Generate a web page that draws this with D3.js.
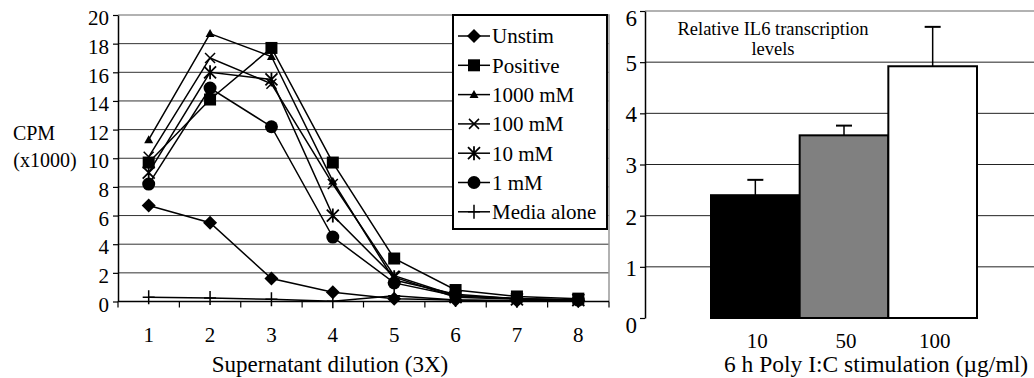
<!DOCTYPE html>
<html>
<head>
<meta charset="utf-8">
<script src="https://cdn.jsdelivr.net/npm/d3@7"></script>
<style>
  body { margin: 0; background: #fff; }
  svg text { font-family: "Liberation Serif", "Times New Roman", serif; fill: #000; }
</style>
</head>
<body>
<svg id="chart" width="1034" height="378"></svg>
<script>
// left panel: CPM vs dilution
const dilutions = [1, 2, 3, 4, 5, 6, 7, 8]
const seriesNames = ["Unstim", "Positive", "1000 mM", "100 mM", "10 mM", "1 mM", "Media alone"]
const unstim   = [6.7, 5.5, 1.6, 0.65, 0.2, 0.1, 0.05, 0.05]
const positive = [9.7, 14.1, 17.7, 9.7, 3.0, 0.8, 0.35, 0.2]
const mM1000   = [11.3, 18.7, 17.1, 8.4, 1.5, 0.5, 0.2, 0.1]
const mM100    = [10.1, 17.0, 15.2, 8.2, 1.8, 0.4, 0.2, 0.1]
const mM10     = [9.0, 16.0, 15.5, 6.0, 1.7, 0.3, 0.15, 0.1]
const mM1      = [8.2, 14.9, 12.2, 4.5, 1.3, 0.4, 0.2, 0.1]
const media    = [0.3, 0.25, 0.15, 0.02, 0.4, 0.1, 0.05, 0.05]
const leftTicks = [0, 2, 4, 6, 8, 10, 12, 14, 16, 18, 20]

// right panel: IL6 bars
const doses = ["10", "50", "100"]
const il6 = [2.4, 3.57, 4.92]
const il6Err = [0.3, 0.19, 0.77]
const rightTicks = [0, 1, 2, 3, 4, 5, 6]

const svg = d3.select("#chart")

// ---------- left chart ----------
const L = {left: 118, right: 609, top: 15, bottom: 301.5}
const x = d3.scaleBand().domain(dilutions).range([L.left, L.right])
const y = d3.scaleLinear().domain([0, 20]).range([L.bottom, L.top])
const cx = d => x(d) + x.bandwidth() / 2

const left = svg.append("g")

left.selectAll(".grid")
  .data(leftTicks.slice(1, -1))
  .join("line")
  .attr("x1", L.left).attr("x2", L.right)
  .attr("y1", d => y(d)).attr("y2", d => y(d))
  .attr("stroke", "#333").attr("stroke-width", 1)

// grey top / right frame
left.append("path")
  .attr("d", `M${L.left},${L.top}H${L.right}V${L.bottom}`)
  .attr("fill", "none").attr("stroke", "#999").attr("stroke-width", 1.5)

left.append("g")
  .attr("transform", `translate(${L.left},0)`)
  .call(d3.axisLeft(y).tickValues(leftTicks).tickSize(5).tickPadding(4).tickSizeOuter(0))
  .call(g => g.select(".domain").attr("stroke", "#000").attr("stroke-width", 1.5))
  .call(g => g.selectAll(".tick line").attr("stroke", "#000").attr("stroke-width", 1.2))
  .call(g => g.selectAll(".tick text").attr("font-size", 21).attr("transform", "translate(0,3)"))

// x axis: ticks between categories
const edges = dilutions.map(d => x(d)).concat([L.right])
left.append("line")
  .attr("x1", L.left).attr("x2", L.right).attr("y1", L.bottom).attr("y2", L.bottom)
  .attr("stroke", "#000").attr("stroke-width", 1.5)
left.selectAll(".xtick")
  .data(edges)
  .join("line")
  .attr("x1", d => d).attr("x2", d => d)
  .attr("y1", L.bottom).attr("y2", L.bottom + 6)
  .attr("stroke", "#000").attr("stroke-width", 1.2)
left.selectAll(".xlab")
  .data(dilutions)
  .join("text")
  .attr("x", d => cx(d)).attr("y", 342)
  .attr("text-anchor", "middle").attr("font-size", 21)
  .text(d => d)

left.append("text")
  .attr("x", 330).attr("y", 372).attr("text-anchor", "middle").attr("font-size", 23)
  .text("Supernatant dilution (3X)")
left.append("text")
  .attr("x", 34).attr("y", 140).attr("text-anchor", "middle").attr("font-size", 20)
  .text("CPM")
left.append("text")
  .attr("x", 45).attr("y", 167).attr("text-anchor", "middle").attr("font-size", 20)
  .text("(x1000)")

// marker shapes
function marker(g, kind) {
  if (kind === "diamond") {
    g.append("path").attr("d", "M0,-7L7,0L0,7L-7,0Z").attr("fill", "#000")
  } else if (kind === "square") {
    g.append("rect").attr("x", -6).attr("y", -6).attr("width", 12).attr("height", 12).attr("fill", "#000")
  } else if (kind === "triangle") {
    g.append("path").attr("d", "M0,-4.5L4.5,3.5L-4.5,3.5Z").attr("fill", "#000")
  } else if (kind === "x") {
    g.append("path").attr("d", "M-5,-5L5,5M-5,5L5,-5").attr("stroke", "#000").attr("stroke-width", 1.5)
  } else if (kind === "asterisk") {
    g.append("path").attr("d", "M-6,-6L6,6M-6,6L6,-6M0,-7V7").attr("stroke", "#000").attr("stroke-width", 1.8)
  } else if (kind === "circle") {
    g.append("circle").attr("r", 6.5).attr("fill", "#000")
  } else if (kind === "plus") {
    g.append("path").attr("d", "M-6,0H6M0,-7V7").attr("stroke", "#000").attr("stroke-width", 1.5)
  }
}

const series = [
  {name: seriesNames[0], values: unstim, kind: "diamond"},
  {name: seriesNames[1], values: positive, kind: "square"},
  {name: seriesNames[2], values: mM1000, kind: "triangle"},
  {name: seriesNames[3], values: mM100, kind: "x"},
  {name: seriesNames[4], values: mM10, kind: "asterisk"},
  {name: seriesNames[5], values: mM1, kind: "circle"},
  {name: seriesNames[6], values: media, kind: "plus"}
]

const line = d3.line()
  .x((d, i) => cx(dilutions[i]))
  .y(d => y(d))

series.forEach(s => {
  left.append("path")
    .attr("d", line(s.values))
    .attr("fill", "none").attr("stroke", "#000").attr("stroke-width", 1.5)
  s.values.forEach((v, i) => {
    const g = left.append("g").attr("transform", `translate(${cx(dilutions[i])},${y(v)})`)
    marker(g, s.kind)
  })
})

// legend
const legend = left.append("g")
legend.append("rect")
  .attr("x", 453).attr("y", 15).attr("width", 154).attr("height", 214)
  .attr("fill", "#fff").attr("stroke", "#000").attr("stroke-width", 2)
series.forEach((s, i) => {
  const ly = 36 + i * 29.3
  legend.append("line")
    .attr("x1", 458).attr("x2", 490).attr("y1", ly).attr("y2", ly)
    .attr("stroke", "#000").attr("stroke-width", 1.5)
  marker(legend.append("g").attr("transform", `translate(474,${ly})`), s.kind)
  legend.append("text")
    .attr("x", 492).attr("y", ly).attr("dy", "0.35em")
    .attr("font-size", 21)
    .text(s.name)
})

// ---------- right chart ----------
const R = {left: 645, right: 1034, top: 11, bottom: 318}
const xb = d3.scaleBand().domain(doses).range([711, 977]).paddingInner(0)
const yb = d3.scaleLinear().domain([0, 6]).range([R.bottom, R.top])
const barFill = ["#000", "#808080", "#fff"]

const right = svg.append("g")

right.selectAll(".grid")
  .data(rightTicks.slice(1, -1))
  .join("line")
  .attr("x1", R.left).attr("x2", R.right)
  .attr("y1", d => yb(d)).attr("y2", d => yb(d))
  .attr("stroke", "#222").attr("stroke-width", 1)
right.append("line")
  .attr("x1", R.left).attr("x2", R.right).attr("y1", R.top).attr("y2", R.top)
  .attr("stroke", "#999").attr("stroke-width", 1.5)

right.selectAll(".bar")
  .data(doses)
  .join("rect")
  .attr("x", d => xb(d)).attr("width", xb.bandwidth())
  .attr("y", (d, i) => yb(il6[i])).attr("height", (d, i) => yb(0) - yb(il6[i]))
  .attr("fill", (d, i) => barFill[i])
  .attr("stroke", "#000").attr("stroke-width", 2)

// error bars
doses.forEach((d, i) => {
  const c = xb(d) + xb.bandwidth() / 2
  right.append("line")
    .attr("x1", c).attr("x2", c)
    .attr("y1", yb(il6[i])).attr("y2", yb(il6[i] + il6Err[i]))
    .attr("stroke", "#000").attr("stroke-width", 1.5)
  right.append("line")
    .attr("x1", c - 8).attr("x2", c + 8)
    .attr("y1", yb(il6[i] + il6Err[i])).attr("y2", yb(il6[i] + il6Err[i]))
    .attr("stroke", "#000").attr("stroke-width", 2)
})

right.append("g")
  .attr("transform", `translate(${R.left},0)`)
  .call(d3.axisLeft(yb).tickValues(rightTicks).tickFormat(d3.format("d")).tickSize(5).tickPadding(3).tickSizeOuter(0))
  .call(g => g.select(".domain").attr("stroke", "#000").attr("stroke-width", 1.5))
  .call(g => g.selectAll(".tick line").attr("stroke", "#000").attr("stroke-width", 1.2))
  .call(g => g.selectAll(".tick text").attr("font-size", 23)
    .attr("transform", d => (d === 0 || d === 6) ? "translate(0,7)" : "translate(0,1)"))

right.selectAll(".xlab")
  .data(doses)
  .join("text")
  .attr("x", d => xb(d) + xb.bandwidth() / 2 + 2).attr("y", 348)
  .attr("text-anchor", "middle").attr("font-size", 21)
  .text(d => d)

right.append("text")
  .attr("x", 876).attr("y", 372).attr("text-anchor", "middle").attr("font-size", 23.5)
  .text("6 h Poly I:C stimulation (µg/ml)")

right.append("text")
  .attr("x", 773).attr("y", 35).attr("text-anchor", "middle").attr("font-size", 18.5)
  .text("Relative IL6 transcription")
right.append("text")
  .attr("x", 773).attr("y", 55).attr("text-anchor", "middle").attr("font-size", 18.5)
  .text("levels")
</script>
</body>
</html>
